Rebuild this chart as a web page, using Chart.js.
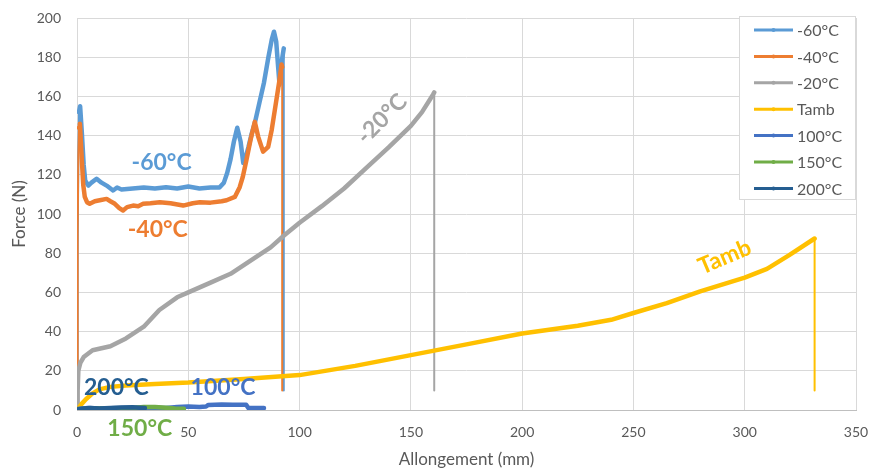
<!DOCTYPE html>
<html>
<head>
<meta charset="utf-8">
<script src="https://cdn.jsdelivr.net/npm/chart.js@4.4.0/dist/chart.umd.min.js"></script>
<style>
html, body { margin: 0; padding: 0; background: #fff; }
#caja { width: 869px; height: 471px; }
</style>
</head>
<body>
<div id="caja"><canvas id="graficoTraction" width="869" height="471"></canvas></div>
<script>
// -60°C
const m60X = [0, 0.2, 0.4, 0.6, 0.9, 1.4, 2.2, 3.0, 3.7, 5.1, 6.5, 8.8, 11, 13.3, 16.2, 18, 20, 25, 30, 35, 40, 45, 50, 55, 60, 64, 66, 67.5, 69, 70.5, 72, 73.5, 74.7, 75.8, 77, 78.5, 80, 82, 84, 86, 87.5, 88.5, 89.5, 90.3, 91, 92, 92.9, 92.9];
const m60Y = [0, 30, 80, 130, 152, 155, 141, 125, 117, 114.5, 116, 118, 116, 114.5, 112, 113.5, 112.5, 113, 113.5, 113, 113.7, 113, 114, 113, 113.5, 113.5, 116, 121, 128, 137, 144, 137, 126, 129, 134, 141, 147, 157, 167, 180, 189, 193, 188, 176, 166, 178, 184.5, 10];

// -40°C
const m40X = [0, 0.2, 0.4, 0.6, 0.9, 1.3, 2, 2.8, 3.5, 4.5, 5.7, 8, 10.2, 13.3, 15, 17, 19, 20.7, 22.5, 25.2, 27.5, 29.7, 33, 37.2, 42, 47.7, 52, 55.2, 60, 65, 67.2, 70.9, 73.1, 74.5, 76.1, 78, 79.9, 81.4, 83.6, 85.9, 87.5, 88.9, 90.8, 91.9, 92.2, 92.2];
const m40Y = [0, 40, 90, 130, 144, 146, 131, 115, 108.7, 106, 105.2, 106.5, 107, 107.7, 106.5, 105.2, 103, 101.8, 103.5, 104.3, 104, 105.2, 105.5, 106, 105.5, 104.3, 105.5, 106, 105.8, 106.5, 107, 108.7, 113.7, 119, 127.4, 138, 147, 139.5, 131.8, 134.3, 143, 153.2, 167, 176.3, 175, 10];

// -20°C
const m20X = [0, 0.3, 0.6, 1.5, 3, 7, 15, 22, 30, 37, 45, 50, 60, 69, 79, 87, 93, 100, 110, 120, 130, 140, 150, 155, 160, 160.5, 160.5];
const m20Y = [0, 10, 20, 24, 27, 30.5, 32.5, 36.5, 42.5, 51, 57.5, 60, 65, 69.5, 77, 83, 89, 95.5, 104, 113, 123.5, 134, 145, 152, 161, 162, 10];

// Tamb
const tambX = [0, 2, 4, 7, 10, 15, 22, 35, 50, 75, 100, 125, 150, 175, 200, 225, 240, 250, 265, 280, 300, 310, 320, 331.4, 331.4];
const tambY = [0, 3, 5.5, 8.5, 10.5, 11.8, 12.5, 13.3, 14, 15.8, 17.8, 22.5, 28, 33.5, 39, 43, 46, 49.5, 54.5, 60.5, 67.5, 72, 79, 87.5, 10];

// 100°C
const c100X = [0, 5, 10, 20, 30, 40, 45, 50, 55, 58, 59, 65, 70, 76, 77, 80, 84];
const c100Y = [0.5, 1, 0.8, 1, 1.2, 1, 1.5, 1.8, 1.5, 1.8, 2.6, 2.8, 2.7, 2.7, 1, 1, 1];

// 150°C
const c150X = [0, 5, 10, 19, 22, 25, 30, 35, 40, 44, 48];
const c150Y = [0.3, 0.6, 0.8, 0.5, 0.8, 1, 1.5, 1.5, 1.2, 0.8, 0.6];

// 200°C
const c200X = [0, 3, 6, 10, 15, 20, 25, 28, 30.5];
const c200Y = [0.3, 0.8, 1, 0.8, 1, 1.3, 1.4, 1.2, 1];

const nombres = ['-60°C', '-40°C', '-20°C', 'Tamb', '100°C', '150°C', '200°C'];
const colores = ['#5B9BD5', '#ED7D31', '#A5A5A5', '#FFC000', '#4472C4', '#70AD47', '#255E91'];
const ejesX = [m60X, m40X, m20X, tambX, c100X, c150X, c200X];
const ejesY = [m60Y, m40Y, m20Y, tambY, c100Y, c150Y, c200Y];

const ticksX = { min: 0, max: 350, step: 50 };
const ticksY = { min: 0, max: 200, step: 20 };

// textos sobre las curvas (posicion en unidades de los ejes)
const etiquetas = [
  { text: '-60°C', x: 38, y: 126, rot: 0, color: '#5B9BD5' },
  { text: '-40°C', x: 36.3, y: 92.3, rot: 0, color: '#ED7D31' },
  { text: '-20°C', x: 137, y: 148.5, rot: -45, color: '#A5A5A5' },
  { text: 'Tamb', x: 291, y: 78, rot: -23, color: '#FFC000' },
  { text: '200°C', x: 17.7, y: 11.5, rot: 0, color: '#255E91' },
  { text: '100°C', x: 65.6, y: 11.5, rot: 0, color: '#4472C4' },
  { text: '150°C', x: 28.2, y: -9.7, rot: 0, color: '#70AD47' }
];

Chart.defaults.font.family = 'Lato, "Open Sans", sans-serif';
Chart.defaults.color = '#595959';

const datasets = nombres.map((nombre, i) => ({
  label: nombre,
  data: ejesX[i].map((x, j) => ({ x: x, y: ejesY[i][j] })),
  borderColor: colores[i],
  backgroundColor: colores[i],
  borderWidth: 4.5,
  pointRadius: 0,
  showLine: true,
  tension: 0,
  borderJoinStyle: 'round',
  borderCapStyle: 'round',
  order: nombres.length - i,
  segment: {
    // las caidas / subidas verticales son mas finas
    borderWidth: ctx => {
      const dx = Math.abs(ctx.p1.x - ctx.p0.x);
      const dy = Math.abs(ctx.p1.y - ctx.p0.y);
      return dy > 30 * Math.max(dx, 0.01) ? 2 : 4.5;
    }
  }
}));

const textosPlugin = {
  id: 'textos',
  afterDatasetsDraw(chart) {
    const { ctx, scales: { x, y } } = chart;
    ctx.save();
    ctx.font = 'bold 23px Lato';
    ctx.textAlign = 'center';
    ctx.textBaseline = 'middle';
    etiquetas.forEach(e => {
      ctx.save();
      ctx.translate(x.getPixelForValue(e.x), y.getPixelForValue(e.y));
      ctx.rotate(e.rot * Math.PI / 180);
      ctx.fillStyle = e.color;
      ctx.fillText(e.text, 0, 0);
      ctx.restore();
    });
    ctx.restore();
  }
};

const leyendaPlugin = {
  id: 'leyenda',
  afterDraw(chart) {
    const ctx = chart.ctx;
    const bx = 739.5, by = 16.5, bw = 116, bh = 183;
    ctx.save();
    ctx.fillStyle = '#fff';
    ctx.fillRect(bx, by, bw, bh);
    ctx.strokeStyle = '#D9D9D9';
    ctx.lineWidth = 1;
    ctx.strokeRect(bx, by, bw, bh);
    chart.data.datasets.forEach((ds, i) => {
      const yy = 30 + i * 26.4;
      ctx.strokeStyle = ds.borderColor;
      ctx.lineWidth = 3;
      ctx.beginPath();
      ctx.moveTo(754, yy);
      ctx.lineTo(793, yy);
      ctx.stroke();
      ctx.fillStyle = ds.borderColor;
      ctx.beginPath();
      ctx.arc(773.5, yy, 2, 0, Math.PI * 2);
      ctx.fill();
      ctx.fillStyle = '#595959';
      ctx.font = '16px Lato';
      ctx.textAlign = 'left';
      ctx.textBaseline = 'middle';
      ctx.fillText(ds.label, 797, yy + 1);
    });
    ctx.restore();
  }
};

new Chart(document.getElementById('graficoTraction'), {
  type: 'scatter',
  data: { datasets: datasets },
  plugins: [textosPlugin, leyendaPlugin],
  options: {
    responsive: false,
    animation: false,
    layout: { padding: { left: 0, right: 13, top: 18, bottom: 0 } },
    plugins: {
      legend: { display: false },
      tooltip: { enabled: false }
    },
    scales: {
      x: {
        type: 'linear',
        min: ticksX.min,
        max: ticksX.max,
        afterFit: s => { s.height = 61; s.paddingLeft = 0; s.paddingRight = 0; },
        ticks: { stepSize: ticksX.step, padding: 14, font: { size: 14 }, color: '#595959' },
        grid: { color: '#D9D9D9', drawTicks: false },
        border: { color: '#BFBFBF', width: 1 },
        title: { display: true, text: 'Allongement (mm)', font: { size: 17 }, color: '#595959', padding: { top: 0, bottom: 1 } }
      },
      y: {
        min: ticksY.min,
        max: ticksY.max,
        afterFit: s => { s.width = 77; s.paddingTop = 0; s.paddingBottom = 0; },
        ticks: { stepSize: ticksY.step, padding: 16, font: { size: 14 }, color: '#595959' },
        grid: { color: '#D9D9D9', drawTicks: false },
        border: { display: false },
        title: { display: true, text: 'Force (N)', font: { size: 17 }, color: '#595959', padding: { top: 9, bottom: 0 } }
      }
    }
  }
});
</script>
</body>
</html>
